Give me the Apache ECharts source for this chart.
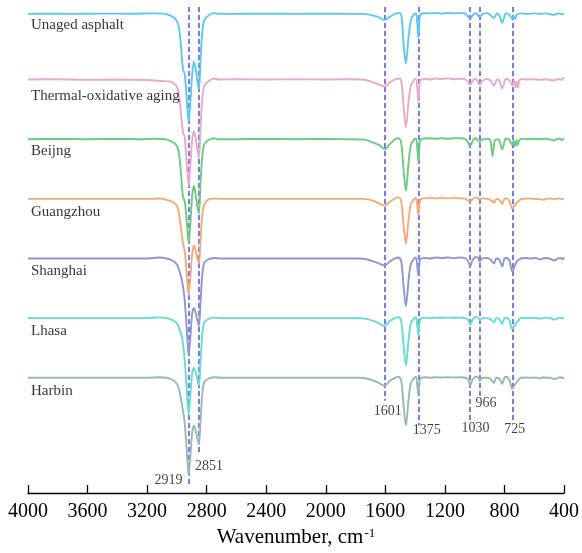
<!DOCTYPE html>
<html><head><meta charset="utf-8">
<script src="https://cdn.jsdelivr.net/npm/echarts@6/dist/echarts.min.js"></script>
<style>html,body{margin:0;padding:0;background:#fff}#c{width:582px;height:553px}</style>
</head><body><div id="c"></div>
<script>
// ---- data (wavenumber cm-1, relative transmittance in arbitrary units) ----
const sampleNames = ['Unaged asphalt', 'Thermal-oxidative aging', 'Beijng', 'Guangzhou', 'Shanghai', 'Lhasa', 'Harbin'];
const stackOffsets = [482, 416, 356, 296, 236, 176, 116];
const peakLabels = ['2919', '2851', '1601', '1375', '1030', '966', '725'];
const peakLineX = [2919, 2851, 1601, 1375, 1030, 966, 747];

const unaged = [[4000,0],[3900,0.3],[3700,0],[3500,0.3],[3300,0.2],[3150,0.5],[3080,0],[3040,-2],[3010,-5],[2990,-11],[2975,-28],[2959,-56],[2948,-60],[2934,-85],[2921,-109],[2910,-90],[2897,-60],[2885,-48],[2873,-56],[2862,-68],[2852,-76],[2840,-42],[2828,-16],[2815,-6],[2790,-2],[2770,0],[2750,0.8],[2720,0],[2600,0],[2400,0.3],[2200,0],[2000,0.3],[1850,0],[1750,0],[1700,-1],[1650,-3],[1604,-6],[1570,-3],[1530,0.5],[1505,1],[1490,-4],[1478,-29],[1462,-50],[1444,-23],[1428,-6],[1405,0],[1394,0.7],[1386,-8],[1378,-24],[1369,-3],[1360,0],[1330,0.7],[1300,0.5],[1260,1],[1220,0.3],[1180,1],[1140,0.5],[1100,1],[1060,0],[1030,-5],[1012,-1],[993,0.7],[966,-3],[945,0],[915,0.8],[895,-1],[870,-4],[850,0.5],[835,-1],[815,-9],[795,0],[785,0.5],[765,-1],[748,-5],[738,-2],[728,-5],[718,-1],[690,0.5],[650,0],[600,0.5],[560,0],[520,0.5],[490,-0.5],[470,-1],[450,0],[430,0.5],[415,-0.5],[400,0.5]];
const thermal = [[4000,0],[3800,0.3],[3600,-0.3],[3400,0],[3200,-0.5],[3100,-1.5],[3050,-2],[3020,-4],[2995,-9],[2975,-30],[2960,-53],[2948,-58],[2934,-84],[2921,-107],[2910,-88],[2897,-60],[2885,-52],[2873,-60],[2862,-72],[2852,-79],[2840,-44],[2828,-17],[2815,-6],[2790,-2],[2770,0],[2752,1],[2720,0],[2600,0.3],[2400,0],[2200,0.3],[2000,0],[1850,0.3],[1760,0],[1720,-1],[1660,-4],[1604,-7],[1570,-3],[1530,0.5],[1505,1],[1490,-4],[1478,-26],[1462,-48],[1444,-22],[1428,-6],[1405,0],[1394,0.7],[1386,-8],[1378,-22],[1369,-3],[1360,0],[1330,0.5],[1300,0],[1260,1],[1220,0.5],[1180,1.2],[1140,0.3],[1100,0.8],[1060,0],[1030,-5],[1012,-1],[993,0.8],[966,-5],[945,-1],[915,0.5],[895,-1],[870,-6],[850,0],[835,-1],[815,-9],[795,0],[785,0.5],[765,-1],[745,-6],[735,-1],[725,-8],[718,-2],[710,-8],[700,-1],[680,0.5],[650,0],[600,0.3],[560,-0.3],[520,0.3],[490,-0.5],[470,-1],[450,0],[430,0.3],[415,-0.5],[405,1.5],[400,0.5]];
const beijing = [[4000,0],[3800,0.3],[3600,0],[3400,0.3],[3250,0],[3150,0.5],[3080,0],[3040,-2],[3010,-5],[2990,-11],[2975,-30],[2959,-58],[2948,-62],[2934,-82],[2921,-105],[2910,-86],[2897,-56],[2885,-47],[2873,-57],[2862,-68],[2852,-75],[2840,-40],[2828,-15],[2815,-5],[2790,-1],[2770,0],[2750,1],[2720,0],[2600,0],[2400,0.3],[2200,0],[2000,0.3],[1850,0],[1740,-0.5],[1690,-3],[1640,-6],[1604,-10],[1570,-5],[1535,0],[1510,1],[1492,-5],[1478,-30],[1462,-52],[1444,-24],[1428,-6],[1405,0],[1394,0.7],[1386,-8],[1378,-23],[1369,-3],[1360,0],[1330,0.7],[1300,1],[1260,0.5],[1220,1],[1180,0.5],[1140,1],[1100,1],[1060,0],[1030,-7],[1012,-1],[993,1],[966,-3],[945,0],[915,0.5],[895,-1],[880,-17],[866,-2],[850,0],[835,-1],[815,-10],[795,0],[785,0.5],[765,-1],[748,-6],[738,-1],[728,-7],[718,-1],[712,-6],[700,-1],[680,0.5],[650,0],[600,0.5],[560,0],[520,0.5],[490,-0.5],[470,-1.5],[450,0],[430,0.5],[415,-1],[400,1]];
const guangzhou = [[4000,0],[3800,0],[3600,0],[3400,0],[3200,0],[3120,0.3],[3070,-1],[3030,-3],[3000,-7],[2985,-16],[2970,-33],[2959,-45],[2948,-52],[2934,-75],[2921,-97],[2910,-80],[2897,-55],[2885,-47],[2873,-53],[2862,-60],[2852,-65],[2840,-38],[2828,-14],[2815,-5],[2790,-1],[2770,0],[2750,0.5],[2700,0],[2500,0],[2300,0],[2100,0],[1900,0],[1760,0],[1700,-1],[1650,-4],[1604,-7],[1570,-3],[1535,0.5],[1510,1.5],[1492,-4],[1478,-26],[1462,-45],[1444,-21],[1428,-5],[1405,0],[1394,1],[1386,-6],[1378,-16],[1369,-3],[1360,0],[1330,0.5],[1300,1],[1260,0.5],[1220,1],[1180,0.5],[1140,1],[1100,0.5],[1060,0],[1030,-3],[1012,0],[993,1.5],[966,0],[945,0.5],[915,0],[895,-1],[870,-4],[855,0],[835,-1],[815,-5],[800,0],[785,0.5],[765,-3],[748,-10],[730,-6],[710,-3],[690,-0.5],[670,0],[640,0.5],[600,0],[570,-0.3],[540,-1],[520,0],[490,0.3],[470,-0.5],[450,0],[430,0.5],[415,-0.3],[400,0.5]];
const shanghai = [[4000,0],[3800,0],[3600,0],[3400,0],[3200,0],[3120,1],[3070,0],[3030,-2],[3000,-6],[2980,-14],[2965,-23],[2950,-38],[2934,-70],[2921,-98],[2910,-80],[2897,-55],[2885,-50],[2873,-55],[2862,-62],[2852,-68],[2840,-40],[2828,-14],[2815,-4],[2790,-1],[2770,0],[2750,0.5],[2700,0],[2500,0],[2300,0],[2100,0],[1900,0],[1780,0],[1720,-1],[1660,-4],[1604,-7],[1570,-3],[1535,0],[1510,1],[1492,-4],[1478,-27],[1462,-48],[1444,-22],[1428,-5],[1405,0],[1394,1],[1386,-7],[1378,-17],[1369,-3],[1360,0],[1330,0.5],[1300,0],[1260,1],[1220,0.5],[1180,1],[1140,0.3],[1100,1],[1060,0],[1040,-4],[1030,-8],[1015,-2],[993,1.5],[975,0],[966,-3],[950,0],[915,0.5],[895,-1],[870,-5],[855,0],[835,-1],[815,-8],[800,0],[785,0.5],[765,-3],[748,-13],[730,-7],[710,-2],[690,0],[660,0.5],[620,0],[590,0.5],[560,-1],[540,0],[520,0.5],[490,-0.5],[465,-2],[440,0],[420,0.5],[410,-1],[400,1]];
const lhasa = [[4000,0],[3800,0],[3600,0],[3400,0],[3200,0],[3120,0.8],[3070,0],[3030,-2],[3000,-5],[2980,-12],[2965,-20],[2950,-38],[2934,-70],[2921,-97],[2910,-78],[2897,-55],[2885,-50],[2873,-55],[2862,-62],[2852,-68],[2840,-40],[2828,-14],[2815,-4],[2790,-1],[2770,0],[2750,0.5],[2700,0],[2500,0],[2300,0],[2100,0],[1900,0],[1780,0],[1720,-1],[1660,-4],[1604,-8],[1570,-3],[1535,0],[1510,1],[1492,-4],[1478,-27],[1462,-48],[1444,-22],[1428,-5],[1405,0],[1394,1],[1386,-7],[1378,-17],[1369,-3],[1360,0],[1330,0.5],[1300,0],[1260,0.5],[1220,0.3],[1180,0.5],[1140,0.3],[1100,0.5],[1060,0],[1040,-3],[1030,-7],[1015,-2],[993,1.5],[975,0],[966,-2],[950,0],[915,0],[895,-1],[870,-4],[855,0],[835,-1],[815,-6],[800,0],[785,0.5],[765,-3],[748,-11],[730,-7],[710,-3],[690,0],[660,0.3],[620,0],[590,0.3],[560,-0.5],[540,0],[520,0.5],[490,0],[465,-1.5],[440,0],[420,0.5],[410,-0.5],[400,0.5]];
const harbin = [[4000,0],[3800,0],[3600,0],[3400,0],[3200,0],[3120,0.5],[3070,0],[3030,-2],[3000,-6],[2985,-12],[2965,-28],[2950,-42],[2934,-72],[2921,-98],[2910,-80],[2897,-55],[2885,-48],[2873,-54],[2862,-61],[2852,-67],[2840,-40],[2828,-14],[2815,-4],[2790,-1],[2770,0],[2750,0.5],[2700,0],[2500,0],[2300,0],[2100,0],[1900,0],[1780,0],[1720,-1],[1660,-4],[1604,-8],[1570,-3],[1535,0],[1510,1],[1492,-4],[1478,-27],[1462,-48],[1444,-22],[1428,-5],[1405,0],[1394,1],[1386,-7],[1378,-18],[1369,-3],[1360,0],[1330,0.5],[1300,0],[1260,0.5],[1220,0.3],[1180,0.5],[1140,0.3],[1100,0.5],[1060,0],[1040,-3],[1030,-8],[1015,-2],[993,1],[975,0],[966,-3],[950,0],[915,0],[895,-1],[870,-5],[855,0],[835,-1],[815,-6],[800,0],[790,1],[765,-3],[748,-11],[730,-7],[710,-3],[690,0],[660,0.3],[620,0],[590,0.3],[560,-0.5],[540,0.5],[520,0],[490,0],[465,-1.5],[440,0],[420,0.5],[410,-0.5],[400,0.5]];
const spectra = [unaged, thermal, beijing, guangzhou, shanghai, lhasa, harbin];

// ---- styling / layout ----
const colors = ['#5cc8f2', '#e9a9c9', '#6bcc80', '#f5aa75', '#8f97cc', '#62ddd0', '#95b9b5'];
const serif = '"Liberation Serif", "Times New Roman", serif';
const nameLabelDrop = [-11, -17, -12, -13, -13, -13, -13];
const lineTop = 489;
const lineBottom = [7, 40, 93, 68, 73, 97, 73];
const peakLabelPos = [[3057, 13], [2785, 27], [1584, 82], [1322, 63], [994, 65], [924, 90], [731, 64]];

const chart = echarts.init(document.getElementById('c'), null, {renderer: 'canvas'});

const series = spectra.map((pts, i) => ({
  name: sampleNames[i],
  type: 'line',
  data: pts.map(p => [p[0], p[1] + stackOffsets[i]]),
  showSymbol: false,
  smooth: 0.3,
  z: 20 - i,
  lineStyle: {color: colors[i], width: 1.9},
  itemStyle: {color: colors[i]},
  silent: true,
  animation: false
}));

series.push({
  type: 'line',
  data: [],
  z: 30,
  silent: true,
  animation: false,
  markLine: {
    silent: true,
    symbol: ['none', 'none'],
    animation: false,
    label: {show: false},
    lineStyle: {type: [5, 3], color: 'rgba(70,70,240,0.85)', width: 1.7},
    data: peakLineX.map((x, i) => [{coord: [x, lineTop]}, {coord: [x, lineBottom[i]]}])
  }
});

series.push({
  type: 'scatter',
  data: peakLabels.map((t, i) => [peakLabelPos[i][0], peakLabelPos[i][1], t]),
  symbolSize: 1,
  itemStyle: {color: 'rgba(0,0,0,0)'},
  silent: true,
  animation: false,
  z: 31,
  label: {show: true, position: 'inside', formatter: p => p.value[2], color: '#111', fontSize: 14, fontFamily: serif}
});

series.push({
  type: 'scatter',
  data: sampleNames.map((t, i) => [3983, stackOffsets[i] + nameLabelDrop[i], t]),
  symbolSize: 1,
  itemStyle: {color: 'rgba(0,0,0,0)'},
  silent: true,
  animation: false,
  z: 31,
  label: {show: true, position: 'right', distance: 0, formatter: p => p.value[2], color: '#000', fontSize: 15, fontFamily: serif}
});

chart.setOption({
  animation: false,
  backgroundColor: '#fff',
  grid: {left: 28, right: 17, top: 0, bottom: 57, containLabel: false},
  xAxis: {
    type: 'value', min: 400, max: 4000, interval: 400, inverse: true,
    axisLine: {show: true, lineStyle: {color: '#000', width: 1.3}},
    axisTick: {show: true, inside: true, length: 8, lineStyle: {color: '#000', width: 1.3}},
    axisLabel: {fontSize: 20, color: '#000', fontFamily: serif, margin: 9, showMinLabel: true, showMaxLabel: true,
      formatter: v => String(v)},
    splitLine: {show: false},
    name: 'Wavenumber, cm{sup|-1}',
    nameLocation: 'middle',
    nameGap: 31,
    nameTextStyle: {fontSize: 21, color: '#000', fontFamily: serif,
      rich: {sup: {fontSize: 13, color: '#000', fontFamily: serif, verticalAlign: 'top', padding: [0, 0, 8, 1]}}}
  },
  yAxis: {type: 'value', min: 0, max: 496, show: false},
  series: series
});
</script></body></html>
